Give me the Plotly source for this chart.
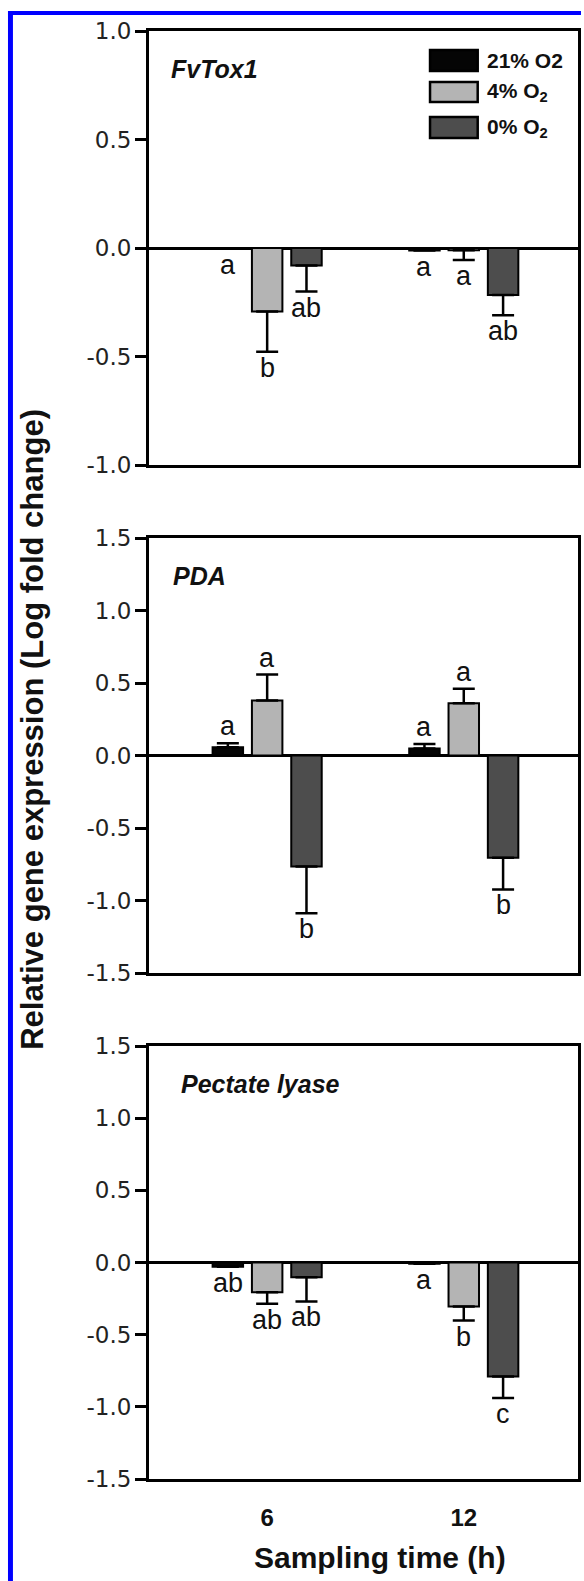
import plotly.graph_objects as go
from plotly.subplots import make_subplots

# ---------------- data ----------------
groups = ["6", "12"]
series = ["21% O2", "4% O<sub>2</sub>", "0% O<sub>2</sub>"]
colors = ["#050505", "#b4b4b4", "#4d4d4d"]

panel_titles = ["FvTox1", "PDA", "Pectate lyase"]

fvtox1_mean = [[-0.003, -0.012], [-0.293, -0.010], [-0.081, -0.217]]
fvtox1_err = [[0.000, 0.000], [0.185, 0.045], [0.120, 0.093]]
fvtox1_letters = [["a", "a"], ["b", "a"], ["ab", "ab"]]

pda_mean = [[0.057, 0.048], [0.379, 0.360], [-0.766, -0.706]]
pda_err = [[0.028, 0.032], [0.179, 0.100], [0.322, 0.218]]
pda_letters = [["a", "a"], ["a", "a"], ["b", "b"]]

pl_mean = [[-0.030, -0.008], [-0.206, -0.305], [-0.102, -0.790]]
pl_err = [[0.000, 0.000], [0.080, 0.097], [0.168, 0.148]]
pl_letters = [["ab", "a"], ["ab", "b"], ["ab", "c"]]

yranges = [[-1.0, 1.0], [-1.5, 1.5], [-1.5, 1.5]]
ytick_vals = [[-1.0, -0.5, 0.0, 0.5, 1.0],
              [-1.5, -1.0, -0.5, 0.0, 0.5, 1.0, 1.5],
              [-1.5, -1.0, -0.5, 0.0, 0.5, 1.0, 1.5]]
ytick_text = [["-1.0", "-0.5", "0.0", "0.5", "1.0"],
              ["-1.5", "-1.0", "-0.5", "0.0", "0.5", "1.0", "1.5"],
              ["-1.5", "-1.0", "-0.5", "0.0", "0.5", "1.0", "1.5"]]

y_title = "Relative gene expression (Log fold change)"
x_title = "Sampling time (h)"

panels = [
    (fvtox1_mean, fvtox1_err, fvtox1_letters),
    (pda_mean, pda_err, pda_letters),
    (pl_mean, pl_err, pl_letters),
]

# ---------------- layout geometry (pixels) ----------------
W, H = 584, 1581
ML, MR, MT, MB = 149, 3, 31, 102
PW = W - ML - MR
PH = H - MT - MB
panel_px = [(31, 465), (538, 973), (1046, 1479)]


def px_x(x):
    return (x - ML) / PW


def px_y(y):
    return (H - MB - y) / PH


FONT = "Liberation Sans, Arial, sans-serif"
TICKFONT = "DejaVu Sans, sans-serif"

fig = make_subplots(rows=3, cols=1)

for p, (means, errs, letters) in enumerate(panels):
    for s in range(3):
        plus = [e if m >= 0 else 0 for m, e in zip(means[s], errs[s])]
        minus = [e if m < 0 else 0 for m, e in zip(means[s], errs[s])]
        fig.add_trace(
            go.Bar(
                x=groups, y=means[s], name=series[s], showlegend=False,
                marker=dict(color=colors[s], line=dict(color="black", width=2)),
                error_y=dict(type="data", symmetric=False, array=plus, arrayminus=minus,
                             color="black", thickness=2.5, width=11),
            ),
            row=p + 1, col=1,
        )
        # significance letters
        for g in range(len(groups)):
            m, e = means[s][g], errs[s][g]
            xref = "x" if p == 0 else f"x{p + 1}"
            yref = "y" if p == 0 else f"y{p + 1}"
            if m >= 0:
                yv, anchor, shift = m + e, "bottom", 0
            else:
                yv, anchor, shift = m - e, "top", 1
            fig.add_annotation(
                x=g + (s - 1) * 0.2, y=yv, xref=xref, yref=yref,
                text=letters[s][g], showarrow=False, yanchor=anchor, yshift=shift,
                font=dict(family=FONT, size=27, color="#111111"),
            )

    # panel title
    xr = "x domain" if p == 0 else f"x{p + 1} domain"
    yr = "y domain" if p == 0 else f"y{p + 1} domain"
    top, bot = panel_px[p]
    title_x = [171, 173, 181][p]
    fig.add_annotation(
        x=(title_x - ML - 2) / PW, y=(bot - (top + 22)) / (bot - top),
        xref=xr, yref=yr, xanchor="left", yanchor="top", showarrow=False,
        text=f"<b><i>{panel_titles[p]}</i></b>",
        font=dict(family=FONT, size=25, color="#111111"),
    )

# axes
for p in range(3):
    top, bot = panel_px[p]
    xa = "xaxis" if p == 0 else f"xaxis{p + 1}"
    ya = "yaxis" if p == 0 else f"yaxis{p + 1}"
    fig.layout[ya].update(
        domain=[px_y(bot), px_y(top)], range=yranges[p],
        tickvals=ytick_vals[p], ticktext=ytick_text[p],
        showline=True, mirror=True, linecolor="black", linewidth=3,
        ticks="outside", ticklen=11, tickwidth=2.5, tickcolor="black",
        showgrid=False, zeroline=True, zerolinecolor="black", zerolinewidth=2.5,
        tickfont=dict(family=TICKFONT, size=23, color="#222222"),
        ticklabelstandoff=-1,
    )
    fig.layout[xa].update(
        range=[-0.601, 1.581], showline=True, mirror=True, linecolor="black", linewidth=3,
        ticks="", showgrid=False, zeroline=False,
        showticklabels=(p == 2),
        tickvals=groups, ticktext=[f"<b>{g}</b>" for g in groups],
        tickfont=dict(family=FONT, size=24, color="#111111"),
        ticklabelstandoff=15,
    )
    if p > 0:
        fig.layout[xa].update(matches="x")

# custom legend (inside first panel)
top, bot = panel_px[0]
ph0 = bot - top
legend_rows = [(50, 71), (82, 102), (117, 138)]
for s, (y0, y1) in enumerate(legend_rows):
    fig.add_shape(
        type="rect", xref="x domain", yref="y domain",
        x0=(432 - ML) / PW, x1=(480 - ML) / PW,
        y0=(bot - y1) / ph0, y1=(bot - y0) / ph0,
        fillcolor=colors[s], line=dict(color="black", width=2.5),
    )
    fig.add_annotation(
        x=(487 - ML) / PW, y=(bot - (y0 + y1) / 2) / ph0, xref="x domain", yref="y domain",
        xanchor="left", yanchor="middle", showarrow=False, text=f"<b>{series[s]}</b>",
        font=dict(family=FONT, size=21, color="#111111"),
    )

# axis titles
fig.add_annotation(
    x=px_x(31), y=px_y(729), xref="paper", yref="paper", textangle=-90,
    xanchor="center", yanchor="middle", showarrow=False, text=f"<b>{y_title}</b>",
    font=dict(family=FONT, size=31, color="#111111"),
)
fig.add_annotation(
    x=px_x(382), y=px_y(1576), xref="paper", yref="paper",
    xanchor="center", yanchor="bottom", showarrow=False, text=f"<b>{x_title}</b>",
    font=dict(family=FONT, size=30, color="#111111"),
)

# blue frame of the original figure
fig.add_shape(type="rect", xref="paper", yref="paper", x0=px_x(7), x1=px_x(12),
              y0=px_y(H), y1=px_y(11), fillcolor="#0000ff", line=dict(width=0), layer="above")
fig.add_shape(type="rect", xref="paper", yref="paper", x0=px_x(7), x1=px_x(W),
              y0=px_y(15), y1=px_y(11), fillcolor="#0000ff", line=dict(width=0), layer="above")

fig.update_layout(
    width=W, height=H, autosize=False,
    margin=dict(l=ML, r=MR, t=MT, b=MB, pad=0),
    paper_bgcolor="white", plot_bgcolor="white",
    barmode="group", bargap=0.4, bargroupgap=0.225,
    showlegend=False,
    font=dict(family=FONT, color="#111111"),
)

fig.write_html("out.html")
